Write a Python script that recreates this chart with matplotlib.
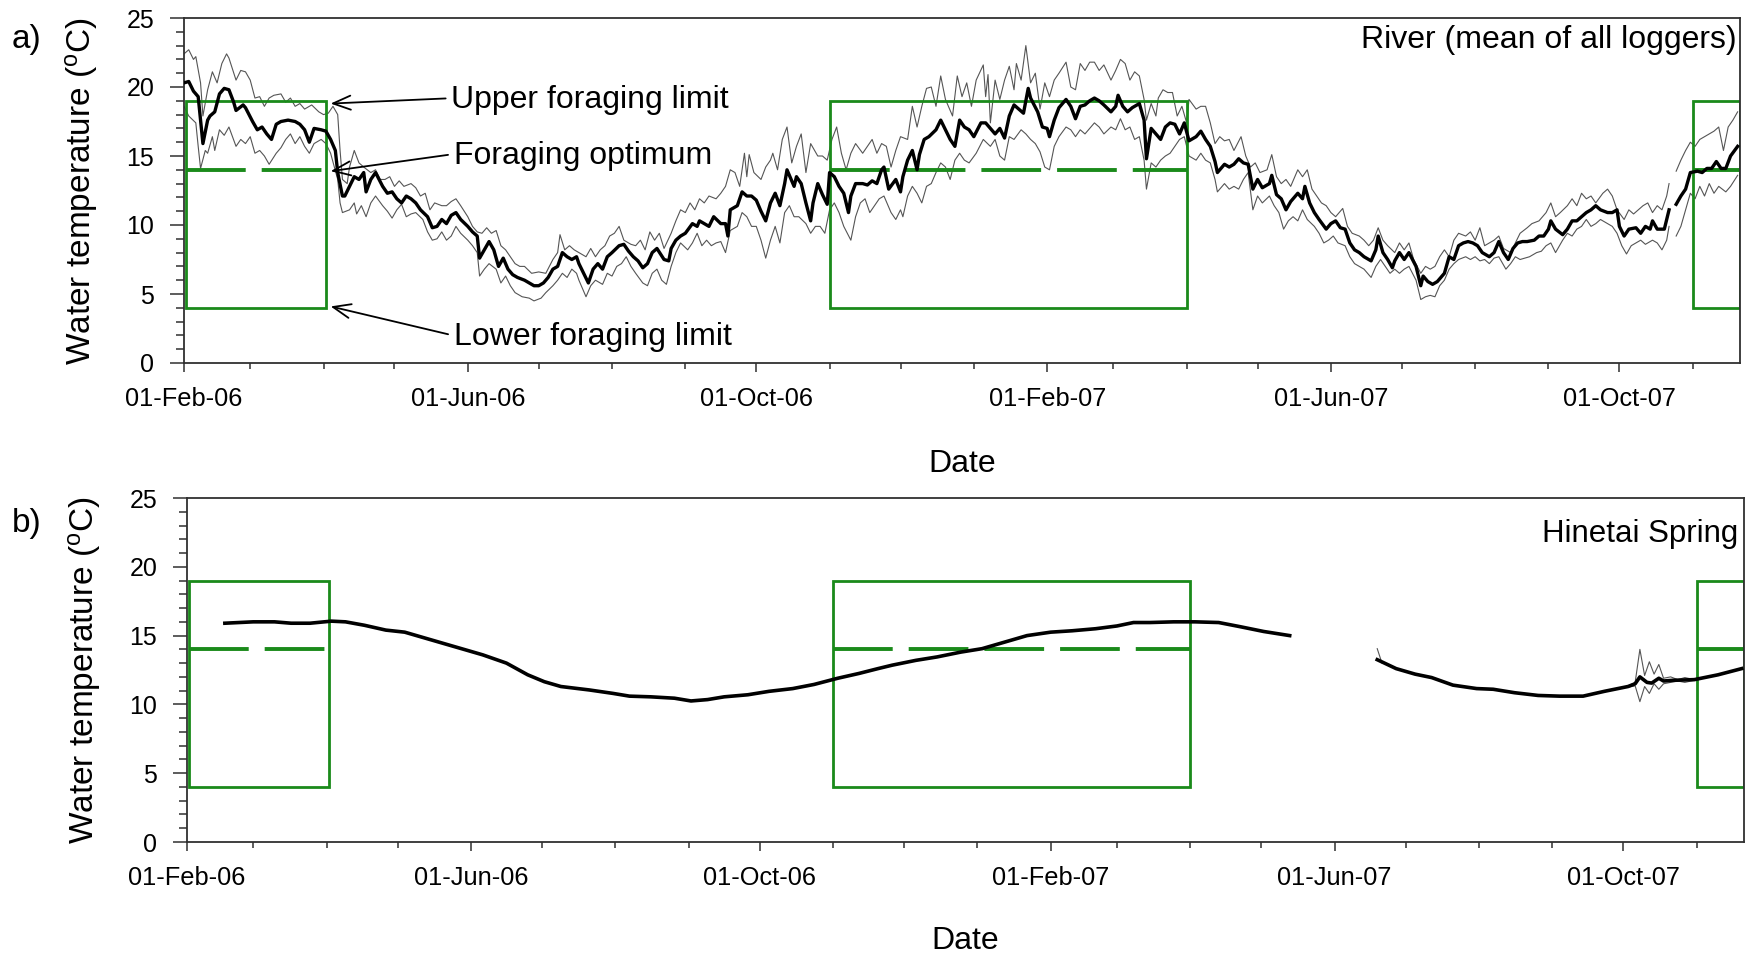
import numpy as np
import matplotlib
matplotlib.use("Agg")
import matplotlib.pyplot as plt
import matplotlib.dates as mdates
from matplotlib.patches import Rectangle
from matplotlib.ticker import MultipleLocator

plt.rcParams['font.family'] = ['Liberation Sans', 'DejaVu Sans']
plt.rcParams['mathtext.fontset'] = 'custom'
plt.rcParams['mathtext.rm'] = 'Liberation Sans'
plt.rcParams['lines.scale_dashes'] = False

nan = np.nan

# day offsets from 01-Feb-2006, water temperature (deg C)
START = np.datetime64('2006-02-01')
END_DAY = 658

river_mean = [
    (0, 20.3), (2, 20.4), (4, 19.7), (6, 19.3), (8, 15.9), (10, 17.6), (11, 17.9), (13, 18.2), (15, 19.5),
    (17, 19.9), (19, 19.8), (21, 18.9), (22, 18.3), (25, 18.7), (26, 18.5), (29, 17.5), (31, 16.9), (33, 17.1),
    (35, 16.6), (37, 16.2), (39, 17.3), (41, 17.5), (44, 17.6), (47, 17.5), (49, 17.3), (51, 16.9), (53, 16.0),
    (55, 17.0), (58, 16.9), (60, 16.8), (62, 16.2), (64, 15.4), (65, 13.8), (67, 12.1), (68, 12.1), (70, 12.8),
    (72, 13.5), (74, 13.3), (76, 13.8), (77, 12.4), (79, 13.3), (81, 13.8), (84, 12.8), (86, 12.3), (88, 12.4),
    (90, 11.9), (92, 11.6), (94, 12.1), (96, 11.9), (98, 11.6), (100, 11.1), (103, 10.6), (105, 9.8), (107, 9.9),
    (109, 10.4), (111, 10.1), (113, 10.7), (115, 10.9), (117, 10.4), (120, 9.9), (122, 9.5), (124, 9.2), (125, 7.6),
    (127, 8.2), (129, 8.8), (131, 8.2), (133, 7.0), (135, 7.6), (137, 6.8), (139, 6.4), (141, 6.2), (144, 6.0),
    (148, 5.6), (150, 5.6), (152, 5.8), (154, 6.2), (156, 6.8), (158, 7.0), (160, 8.0), (162, 7.7), (164, 7.5),
    (166, 7.7), (167, 7.2), (169, 6.5), (171, 5.8), (173, 6.8), (175, 7.2), (177, 6.8), (179, 7.7), (181, 8.0),
    (184, 8.5), (186, 8.6), (188, 8.1), (190, 7.7), (192, 7.4), (194, 6.9), (196, 7.2), (198, 8.0), (200, 8.3),
    (203, 7.5), (205, 7.4), (206, 8.3), (208, 8.9), (210, 9.2), (212, 9.4), (215, 10.1), (217, 9.9), (218, 10.3),
    (220, 10.1), (222, 9.9), (224, 10.6), (227, 10.1), (229, 10.1), (230, 9.2), (231, 11.1), (234, 11.4), (236, 12.4),
    (238, 12.1), (240, 12.1), (242, 11.8), (244, 11.0), (246, 10.3), (248, 11.6), (250, 12.3), (252, 11.4), (254, 13.0),
    (255, 14.0), (258, 12.8), (259, 13.5), (261, 13.0), (263, 11.6), (265, 10.3), (266, 11.6), (268, 13.0), (270, 12.2),
    (272, 11.5), (273, 13.8), (275, 13.5), (277, 12.8), (279, 12.3), (281, 10.9), (282, 12.1), (284, 13.0), (287, 13.0),
    (289, 12.9), (291, 13.2), (293, 13.0), (295, 14.0), (296, 14.2), (298, 12.6), (301, 13.3), (303, 12.4), (304, 13.5),
    (306, 14.7), (308, 15.4), (310, 14.0), (311, 15.1), (313, 16.2), (315, 16.4), (318, 16.9), (320, 17.6), (322, 16.9),
    (324, 16.2), (326, 15.7), (328, 17.6), (330, 17.1), (332, 16.9), (334, 16.4), (337, 17.4), (339, 17.4), (341, 17.0),
    (343, 16.6), (345, 17.0), (347, 16.3), (349, 17.9), (351, 18.7), (353, 18.4), (355, 18.1), (357, 19.9), (358, 19.2),
    (361, 18.2), (363, 17.1), (365, 17.0), (366, 16.4), (368, 17.6), (370, 18.5), (373, 19.1), (375, 18.6), (377, 17.7),
    (379, 18.6), (381, 18.7), (383, 19.0), (385, 19.2), (387, 19.0), (389, 18.7), (392, 18.2), (394, 18.6), (395, 19.4),
    (397, 18.6), (399, 18.2), (401, 18.5), (404, 18.8), (406, 17.6), (407, 14.8), (409, 17.0), (411, 16.6), (413, 16.2),
    (415, 17.1), (417, 17.4), (419, 17.3), (421, 16.6), (423, 17.4), (425, 16.1), (428, 16.4), (430, 16.8), (432, 16.2),
    (434, 15.7), (436, 14.6), (437, 13.8), (440, 14.4), (442, 14.2), (444, 14.4), (446, 14.8), (448, 14.5), (450, 14.4),
    (452, 12.6), (454, 13.3), (456, 12.7), (459, 13.0), (460, 13.6), (462, 12.2), (464, 11.9), (466, 11.1), (468, 11.7),
    (471, 12.3), (473, 11.9), (474, 12.8), (476, 11.6), (478, 10.9), (480, 10.4), (483, 9.7), (485, 10.1), (487, 10.3),
    (489, 9.8), (491, 9.7), (493, 8.7), (495, 8.2), (497, 8.0), (499, 7.7), (502, 7.4), (504, 8.2), (505, 9.2),
    (507, 8.0), (509, 7.5), (511, 6.9), (512, 7.4), (514, 8.0), (516, 7.5), (518, 8.0), (521, 7.0), (523, 5.6),
    (524, 6.3), (526, 5.9), (528, 5.7), (530, 5.9), (533, 6.5), (535, 7.7), (537, 7.5), (539, 8.5), (541, 8.7),
    (543, 8.8), (545, 8.7), (547, 8.5), (549, 8.0), (552, 7.7), (554, 8.0), (556, 8.8), (558, 8.0), (560, 7.5),
    (562, 8.3), (564, 8.7), (566, 8.8), (568, 8.8), (571, 8.9), (573, 9.2), (575, 9.2), (577, 9.7), (578, 10.3),
    (580, 9.7), (583, 9.3), (585, 9.7), (587, 10.3), (589, 10.3), (591, 10.6), (593, 10.9), (595, 11.1), (597, 11.4),
    (599, 11.1), (602, 10.9), (604, 10.9), (606, 11.1), (607, 9.9), (609, 9.2), (611, 9.7), (614, 9.8), (616, 9.4),
    (618, 9.9), (620, 9.7), (621, 10.3), (623, 9.7), (626, 9.7), (627, 10.4), (628, 11.1), (629, nan), (631, 11.5),
    (633, 12.1), (635, 12.6), (637, 13.8), (640, 13.9), (642, 13.8), (644, 14.1), (646, 14.1), (648, 14.6), (650, 14.1),
    (652, 14.1), (654, 15.0), (657, 15.7),
]

river_max = [
    (0, 22.4), (2, 22.7), (4, 22.0), (5, 22.2), (7, 20.3), (8, 17.9), (10, 19.8), (12, 21.1), (14, 20.3), (16, 21.7),
    (18, 22.4), (19, 22.1), (22, 20.5), (24, 21.2), (26, 21.1), (28, 20.5), (30, 19.2), (32, 19.3), (34, 18.6),
    (36, 19.2), (38, 19.4), (41, 19.5), (43, 18.9), (45, 19.2), (47, 18.6), (49, 18.8), (51, 18.4), (54, 18.7),
    (57, 18.2), (59, 18.0), (61, 18.1), (63, 18.6), (65, 18.0), (66, 15.4), (67, 13.3), (69, 13.0), (70, 14.2),
    (72, 15.4), (74, 14.5), (76, 14.2), (79, 13.8), (81, 14.0), (83, 13.3), (85, 13.3), (87, 13.5), (89, 12.8),
    (91, 13.2), (93, 12.8), (96, 13.0), (98, 12.7), (100, 12.1), (102, 12.3), (104, 11.1), (106, 11.6), (109, 11.4),
    (111, 11.4), (113, 11.7), (115, 11.9), (117, 11.4), (120, 10.6), (122, 9.9), (124, 9.5), (126, 9.4), (128, 9.8),
    (130, 9.4), (132, 9.6), (134, 8.5), (136, 8.2), (138, 7.7), (140, 7.2), (142, 7.0), (144, 7.0), (147, 6.5),
    (150, 6.6), (153, 6.5), (156, 7.5), (158, 8.0), (159, 9.3), (161, 8.2), (163, 8.5), (165, 8.2), (167, 8.0),
    (170, 7.7), (172, 8.3), (174, 7.7), (176, 8.2), (178, 8.5), (180, 9.2), (182, 9.4), (184, 9.9), (186, 8.9),
    (189, 8.6), (191, 8.5), (193, 8.9), (195, 8.2), (197, 9.5), (199, 8.9), (201, 9.4), (203, 8.3), (206, 9.4),
    (208, 10.3), (210, 11.1), (212, 10.9), (214, 11.6), (216, 11.1), (218, 11.9), (220, 11.6), (222, 12.1), (225, 11.9),
    (227, 12.3), (229, 12.8), (231, 14.0), (233, 13.8), (235, 12.8), (237, 15.2), (238, 13.5), (239, 15.1), (241, 13.8),
    (244, 13.3), (246, 14.2), (248, 14.7), (249, 15.2), (251, 14.0), (253, 16.2), (255, 17.1), (257, 14.5), (259, 15.7),
    (261, 16.6), (263, 13.8), (265, 15.9), (268, 15.0), (270, 15.0), (272, 14.7), (274, 16.2), (276, 17.1), (278, 15.2),
    (280, 14.0), (282, 15.2), (284, 15.9), (287, 15.2), (289, 15.7), (291, 16.2), (293, 15.2), (295, 15.9), (297, 15.7),
    (299, 14.2), (301, 15.4), (303, 16.4), (306, 16.2), (308, 18.6), (310, 17.1), (312, 18.6), (314, 19.9), (316, 20.0),
    (318, 18.6), (320, 20.8), (322, 19.1), (325, 17.9), (327, 20.8), (329, 19.3), (331, 20.3), (333, 18.6), (335, 20.5),
    (338, 21.6), (339, 19.3), (340, 20.9), (341, 17.4), (343, 20.5), (345, 19.1), (347, 20.5), (349, 21.5), (351, 19.8),
    (352, 21.7), (354, 20.5), (356, 23.0), (358, 20.3), (360, 21.0), (362, 18.4), (364, 20.3), (366, 19.3), (368, 20.5),
    (370, 21.0), (373, 21.8), (375, 20.0), (377, 19.8), (379, 21.7), (381, 21.2), (383, 21.8), (385, 21.8), (387, 21.2),
    (389, 21.6), (392, 20.5), (394, 21.2), (396, 22.0), (398, 21.7), (400, 20.5), (402, 21.1), (404, 20.8), (406, 19.1),
    (407, 17.6), (409, 18.8), (411, 17.9), (412, 19.2), (414, 19.8), (416, 19.6), (418, 19.6), (420, 17.9), (422, 18.6),
    (424, 17.4), (425, 19.1), (428, 18.4), (430, 18.6), (432, 18.6), (434, 17.4), (436, 15.9), (438, 16.4), (440, 16.1),
    (442, 16.2), (444, 15.4), (447, 16.4), (449, 15.0), (451, 14.2), (453, 14.5), (455, 13.8), (458, 14.0), (460, 15.1),
    (462, 13.5), (464, 13.0), (466, 13.3), (468, 12.8), (471, 14.0), (473, 13.5), (475, 14.0), (477, 12.6), (479, 12.1),
    (481, 11.6), (483, 11.4), (485, 10.9), (487, 10.6), (490, 11.2), (492, 9.9), (494, 9.4), (497, 9.2), (499, 8.9),
    (501, 8.5), (503, 8.9), (505, 9.8), (507, 8.9), (509, 8.5), (512, 8.0), (514, 8.7), (516, 8.2), (518, 8.7),
    (520, 7.5), (523, 6.5), (525, 7.0), (527, 6.8), (529, 7.0), (531, 7.7), (533, 8.2), (535, 7.7), (537, 8.9),
    (539, 9.4), (542, 9.2), (544, 9.5), (546, 8.9), (548, 9.8), (550, 8.5), (552, 8.7), (554, 8.9), (556, 9.2),
    (558, 8.3), (561, 8.0), (563, 8.7), (565, 9.4), (568, 9.8), (570, 10.1), (573, 10.3), (576, 10.9), (578, 11.6),
    (580, 10.6), (582, 10.9), (585, 11.4), (587, 11.9), (589, 11.4), (591, 12.3), (593, 11.9), (595, 12.1), (597, 11.6),
    (600, 12.3), (602, 12.6), (604, 12.1), (606, 11.1), (609, 10.4), (611, 11.1), (613, 10.8), (615, 11.1), (617, 11.4),
    (619, 11.6), (621, 10.9), (623, 11.4), (625, 11.1), (627, 12.1), (628, 13.0), (629, nan), (631, 13.9), (633, 14.7),
    (635, 15.4), (637, 16.0), (639, 15.7), (641, 16.2), (643, 16.4), (645, 16.6), (647, 16.8), (649, 17.1), (651, 15.4),
    (653, 17.1), (655, 17.6), (657, 18.2),
]

river_min = [
    (0, 18.6), (2, 17.9), (5, 17.4), (6, 15.7), (7, 14.1), (9, 15.4), (10, 15.2), (12, 16.4), (13, 15.4), (15, 16.9),
    (17, 16.5), (19, 17.1), (22, 15.7), (24, 16.2), (26, 15.9), (28, 16.4), (30, 15.2), (32, 15.4), (34, 15.0),
    (36, 14.4), (39, 15.2), (41, 15.6), (43, 16.2), (45, 16.6), (47, 15.9), (49, 16.4), (51, 15.7), (53, 15.2),
    (55, 15.9), (58, 16.2), (60, 15.9), (62, 15.2), (65, 13.3), (66, 11.6), (67, 10.9), (70, 11.1), (72, 11.6),
    (73, 10.8), (75, 11.4), (77, 10.6), (79, 11.6), (81, 12.1), (84, 11.4), (86, 11.0), (88, 10.5), (90, 11.1),
    (92, 11.5), (94, 10.6), (96, 10.8), (98, 10.9), (101, 10.4), (103, 9.5), (105, 8.9), (107, 9.0), (109, 9.5),
    (111, 8.9), (113, 9.2), (115, 9.9), (117, 9.4), (120, 8.9), (122, 8.5), (124, 8.0), (125, 6.3), (127, 6.8),
    (129, 7.2), (132, 6.8), (134, 5.8), (136, 6.3), (138, 5.6), (140, 5.1), (143, 4.8), (146, 4.7), (148, 4.5),
    (151, 4.7), (153, 5.1), (156, 5.6), (158, 6.0), (160, 6.5), (162, 6.2), (164, 6.8), (166, 6.5), (167, 6.0),
    (170, 4.8), (172, 5.6), (174, 6.0), (177, 5.7), (179, 6.5), (181, 6.3), (183, 7.0), (185, 7.2), (187, 7.7),
    (189, 7.0), (191, 6.5), (194, 5.8), (196, 5.6), (198, 6.5), (200, 6.8), (202, 6.0), (204, 5.7), (206, 7.0),
    (208, 8.0), (210, 8.7), (213, 8.2), (215, 8.7), (217, 9.4), (219, 8.5), (221, 8.9), (223, 8.5), (225, 8.7),
    (227, 8.8), (229, 8.0), (231, 9.6), (234, 9.9), (236, 10.9), (238, 10.6), (240, 9.9), (242, 9.9), (244, 8.9),
    (246, 7.6), (248, 8.9), (250, 9.9), (252, 8.7), (254, 10.9), (256, 11.4), (258, 10.6), (260, 10.6), (263, 10.1),
    (265, 9.4), (267, 9.9), (269, 9.9), (271, 9.4), (273, 11.1), (275, 11.6), (277, 10.9), (279, 9.9), (282, 8.9),
    (284, 10.6), (286, 11.6), (288, 11.9), (290, 10.9), (292, 11.4), (294, 11.9), (296, 12.1), (299, 10.9), (301, 10.4),
    (303, 11.1), (304, 10.6), (306, 12.1), (308, 12.8), (310, 12.3), (312, 11.6), (314, 12.8), (316, 13.0), (318, 13.8),
    (320, 14.5), (322, 14.2), (324, 13.3), (326, 14.7), (328, 15.2), (330, 14.7), (332, 14.5), (335, 15.2), (338, 16.2),
    (341, 15.7), (343, 16.2), (345, 15.0), (347, 14.7), (349, 16.4), (351, 16.2), (354, 16.9), (356, 16.6), (358, 16.2),
    (360, 15.9), (362, 15.3), (364, 14.2), (366, 14.0), (368, 15.7), (370, 16.4), (373, 17.1), (375, 16.9), (377, 16.4),
    (379, 16.9), (381, 16.6), (383, 17.0), (385, 17.4), (387, 17.1), (389, 16.6), (392, 17.1), (394, 16.9), (396, 17.7),
    (398, 16.9), (400, 17.1), (402, 16.2), (404, 16.4), (406, 14.7), (407, 12.6), (409, 14.5), (411, 14.2), (413, 14.7),
    (415, 15.0), (417, 15.2), (419, 15.7), (421, 16.2), (423, 16.4), (425, 15.0), (428, 14.7), (430, 15.2), (432, 14.7),
    (434, 14.5), (436, 13.3), (437, 12.4), (440, 13.0), (442, 12.6), (444, 12.8), (446, 12.6), (448, 13.3), (450, 13.8),
    (452, 11.1), (454, 12.1), (456, 11.6), (459, 12.1), (461, 11.4), (463, 10.9), (465, 9.7), (467, 10.3), (469, 10.6),
    (471, 10.3), (473, 11.1), (475, 10.4), (478, 9.9), (480, 9.4), (482, 8.7), (484, 8.9), (486, 9.2), (488, 8.7),
    (491, 8.5), (493, 7.7), (495, 7.2), (497, 7.0), (499, 6.8), (502, 6.2), (504, 7.0), (506, 7.5), (508, 7.0),
    (510, 6.5), (512, 6.8), (514, 6.5), (516, 6.8), (518, 7.0), (521, 6.0), (523, 4.6), (525, 4.8), (527, 4.9),
    (529, 4.8), (531, 5.6), (533, 6.0), (535, 6.8), (537, 7.2), (539, 7.5), (542, 7.7), (544, 7.5), (546, 7.7),
    (548, 7.4), (550, 7.5), (552, 7.2), (554, 7.6), (556, 7.7), (559, 6.8), (561, 7.2), (563, 7.7), (565, 7.5),
    (567, 7.6), (569, 7.7), (572, 8.0), (574, 8.1), (576, 8.5), (578, 8.7), (580, 8.0), (583, 8.9), (585, 9.4),
    (587, 9.2), (589, 9.7), (591, 9.9), (593, 10.4), (595, 9.9), (597, 10.1), (599, 10.4), (602, 10.1), (604, 9.9),
    (606, 9.4), (608, 8.5), (610, 7.9), (612, 8.5), (614, 8.7), (616, 8.9), (618, 8.6), (621, 8.9), (623, 8.7),
    (625, 8.2), (627, 8.9), (628, 9.9), (629, nan), (631, 9.2), (633, 9.9), (635, 11.1), (637, 12.3), (639, 11.9),
    (641, 12.8), (643, 12.1), (645, 13.0), (647, 12.3), (649, 12.8), (652, 12.4), (654, 12.8), (657, 13.6),
]

spring_mean = [
    (16, 15.9), (28, 16.0), (37, 16.0), (44, 15.9), (52, 15.9), (61, 16.05), (67, 16.0), (75, 15.75), (84, 15.4),
    (92, 15.25), (101, 14.8), (111, 14.3), (118, 13.95), (125, 13.6), (135, 13.0), (144, 12.15), (151, 11.65),
    (158, 11.3), (170, 11.05), (180, 10.8), (187, 10.6), (196, 10.55), (206, 10.45), (213, 10.25), (220, 10.35),
    (227, 10.55), (237, 10.7), (246, 10.95), (256, 11.15), (265, 11.45), (275, 11.9), (284, 12.25), (292, 12.6),
    (298, 12.85), (308, 13.2), (317, 13.45), (327, 13.8), (336, 14.05), (346, 14.55), (355, 15.0), (365, 15.25),
    (374, 15.35), (384, 15.5), (393, 15.7), (400, 15.95), (407, 15.95), (417, 16.0), (426, 16.0), (436, 15.95),
    (445, 15.65), (455, 15.3), (466, 15.0), (485, nan), (503, 13.25), (511, 12.6), (519, 12.2), (526, 11.95),
    (535, 11.4), (545, 11.15), (552, 11.1), (561, 10.85), (571, 10.65), (580, 10.6), (590, 10.6), (599, 10.95),
    (609, 11.3), (612, 11.5), (614, 12.0), (617, 11.6), (619, 11.55), (622, 11.9), (624, 11.7), (628, 11.75),
    (637, 11.8), (647, 12.15), (657, 12.6),
]

spring_max = [
    (503, 14.05), (505, 13.0), (506, nan), (609, 11.35), (612, 11.6), (614, 14.0), (616, 12.1), (618, 13.1),
    (620, 12.2), (622, 12.9), (624, 11.9), (627, 12.0), (630, 11.8), (633, 11.95), (637, 11.8),
]

spring_min = [
    (609, 11.25), (612, 11.35), (614, 10.2), (616, 11.3), (618, 10.8), (620, 11.5), (622, 11.1), (624, 11.5),
    (627, 11.6), (630, 11.7), (633, 11.6), (637, 11.75),
]

# summer foraging windows (day offsets) and limits
forage_windows = [(1, 60), (273, 424), (638, 658)]
upper_limit = 19
optimum = 14
lower_limit = 4

GREEN = '#1a8a1a'


def dnum(day):
    return mdates.date2num(START + np.timedelta64(int(day), 'D'))


def series(pairs):
    arr = np.array(pairs, dtype=float)
    x = np.array([dnum(d) for d in arr[:, 0]])
    return x, arr[:, 1]


def style_axes(ax):
    ax.set_xlim(dnum(0), dnum(END_DAY))
    ax.set_ylim(0, 25)
    ax.xaxis.set_major_locator(mdates.MonthLocator(bymonth=[2, 6, 10]))
    ax.xaxis.set_minor_locator(mdates.MonthLocator())
    ax.xaxis.set_major_formatter(mdates.DateFormatter('%d-%b-%y'))
    ax.yaxis.set_major_locator(MultipleLocator(5))
    ax.yaxis.set_minor_locator(MultipleLocator(1))
    ax.tick_params(axis='x', which='major', length=6.5, width=1.1, pad=11, labelsize=18.3, color='#303030')
    ax.tick_params(axis='x', which='minor', length=4.3, width=1.1, color='#303030')
    ax.tick_params(axis='y', which='major', length=10, width=1.1, pad=11.5, labelsize=18, color='#303030')
    ax.tick_params(axis='y', which='minor', length=6, width=1.1, color='#303030')
    for sp in ax.spines.values():
        sp.set_linewidth(1.3)
        sp.set_color('#303030')
    ax.set_ylabel(r'Water temperature ($\mathregular{^o}$C)', fontsize=24)
    ax.yaxis.set_label_coords(-0.054, 0.5)
    ax.set_xlabel('Date', fontsize=23)


def draw_windows(ax):
    for a, b in forage_windows:
        x0, x1 = dnum(a), dnum(b)
        ax.add_patch(Rectangle((x0, lower_limit), x1 - x0, upper_limit - lower_limit,
                               fill=False, ec=GREEN, lw=2.0, zorder=2))
        ax.plot([x0, x1], [optimum, optimum], color=GREEN, lw=2.8,
                ls=(0, (43, 11.5)), solid_capstyle='butt', zorder=2)


fig = plt.figure(figsize=(17.5, 9.57), dpi=100)
ax1 = fig.add_axes([184 / 1750, 1 - 363 / 957, 1556 / 1750, 345 / 957])
ax2 = fig.add_axes([187 / 1750, 1 - 842 / 957, 1557 / 1750, 344 / 957])

# panel a: river
x, y = series(river_max)
ax1.plot(x, y, color='#555555', lw=0.8, zorder=1.5)
x, y = series(river_min)
ax1.plot(x, y, color='#555555', lw=0.8, zorder=1.5)
draw_windows(ax1)
x, y = series(river_mean)
ax1.plot(x, y, color='black', lw=2.4, zorder=3)
style_axes(ax1)
ax1.xaxis.set_label_coords(0.5, -0.249)

arrow = dict(arrowstyle='->, head_length=0.55, head_width=0.22', lw=1.3, color='black',
             shrinkA=2, shrinkB=0, relpos=(0, 0.55))
ax1.annotate('Upper foraging limit', xy=(dnum(62), 18.8), xytext=(dnum(113), 18.5),
             fontsize=23, ha='left', va='baseline', arrowprops=arrow)
ax1.annotate('Foraging optimum', xy=(dnum(62), 13.9), xytext=(dnum(114), 14.45),
             fontsize=23, ha='left', va='baseline', arrowprops=arrow)
ax1.annotate('Lower foraging limit', xy=(dnum(62), 4.1), xytext=(dnum(114), 1.3),
             fontsize=23, ha='left', va='baseline', arrowprops=arrow)

# panel b: spring
draw_windows(ax2)
x, y = series(spring_max)
ax2.plot(x, y, color='#555555', lw=0.8, zorder=2.5)
x, y = series(spring_min)
ax2.plot(x, y, color='#555555', lw=0.8, zorder=2.5)
x, y = series(spring_mean)
ax2.plot(x, y, color='black', lw=2.6, zorder=3)
style_axes(ax2)
ax2.xaxis.set_label_coords(0.5, -0.2456)

fig.text(1737 / 1750, 1 - 48 / 957, 'River (mean of all loggers)', ha='right', va='baseline', fontsize=23)
fig.text(1738 / 1750, 1 - 541.7 / 957, 'Hinetai Spring', ha='right', va='baseline', fontsize=22.5)
fig.text(12 / 1750, 1 - 48 / 957, 'a)', ha='left', va='baseline', fontsize=24)
fig.text(12 / 1750, 1 - 532 / 957, 'b)', ha='left', va='baseline', fontsize=24)

fig.savefig('out.png', dpi=100)
